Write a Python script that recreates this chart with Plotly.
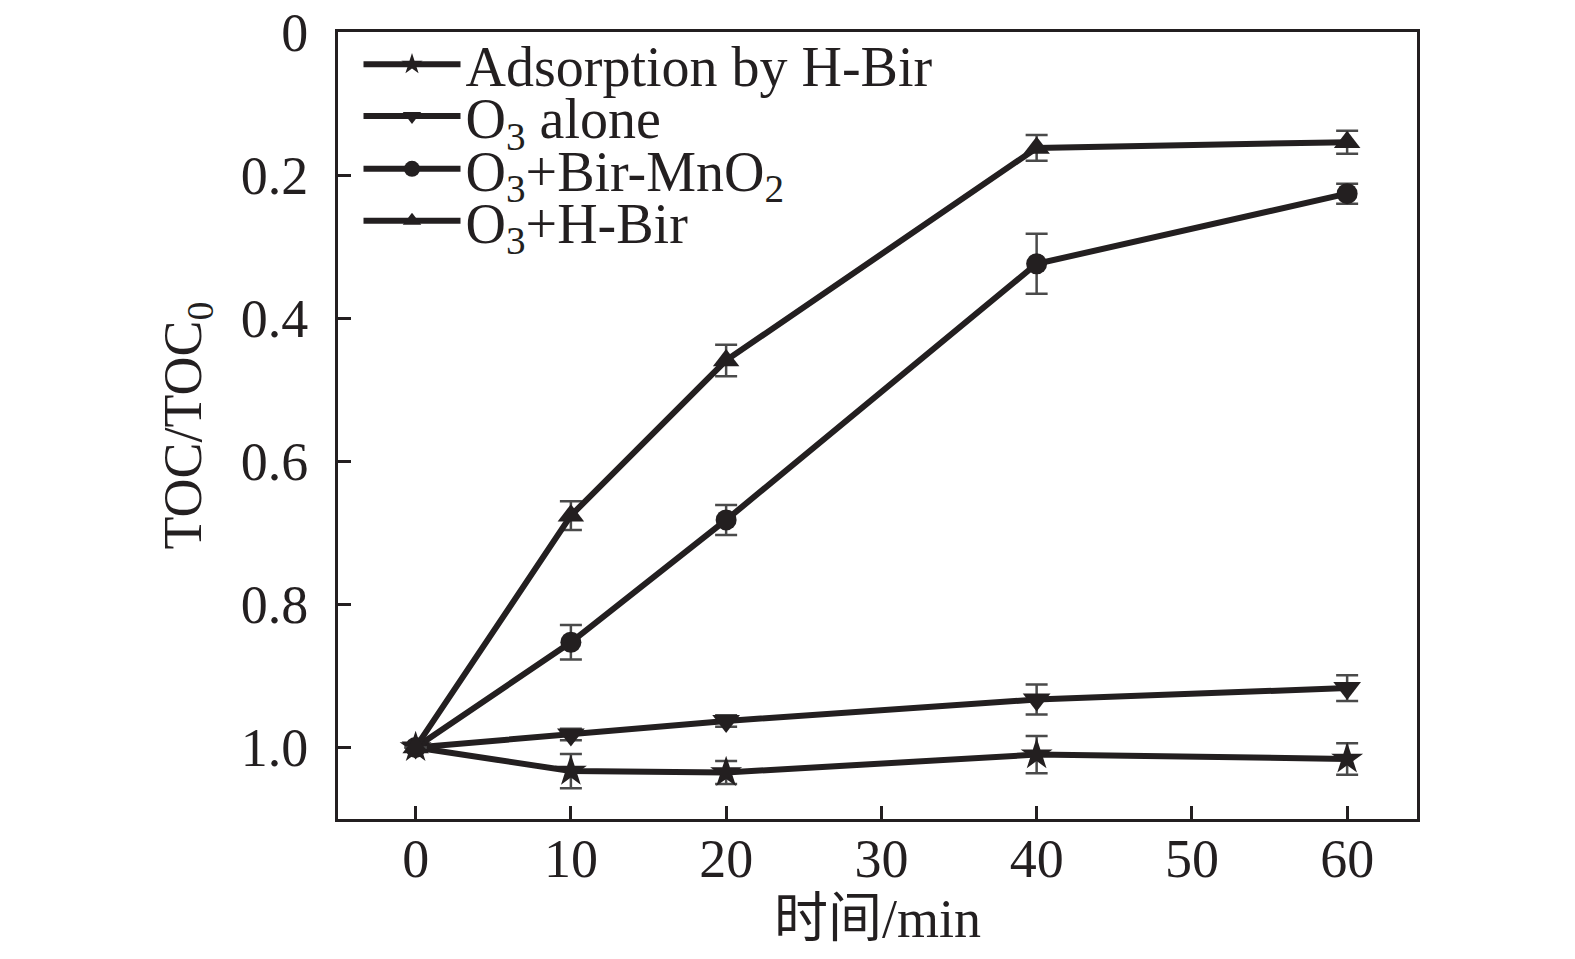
import plotly.graph_objects as go

# time points (min)
time_min = [0, 10, 20, 40, 60]

# TOC/TOC0
adsorption = [1.0, 1.033, 1.035, 1.010, 1.016]
adsorption_err = [0.0, 0.024, 0.016, 0.026, 0.022]

o3_alone = [1.0, 0.982, 0.963, 0.933, 0.917]
o3_alone_err = [0.0, 0.008, 0.008, 0.021, 0.018]

o3_bir = [1.0, 0.853, 0.682, 0.324, 0.226]
o3_bir_err = [0.0, 0.024, 0.021, 0.042, 0.014]

o3_hbir = [1.0, 0.676, 0.459, 0.162, 0.154]
o3_hbir_err = [0.0, 0.020, 0.022, 0.018, 0.016]

series_names = ["Adsorption by H-Bir", "O<sub>3</sub> alone",
                "O<sub>3</sub>+Bir-MnO<sub>2</sub>", "O<sub>3</sub>+H-Bir"]
y_ticks = [0, 0.2, 0.4, 0.6, 0.8, 1.0]
y_ticklabels = ["0", "0.2", "0.4", "0.6", "0.8", "1.0"]
x_ticks = [0, 10, 20, 30, 40, 50, 60]

ink = "#231f20"
font_fam = "Liberation Serif, Times New Roman, Noto Sans CJK SC, serif"

fig = go.Figure()
series = [
  (adsorption, adsorption_err, "star", 24),
  (o3_alone, o3_alone_err, "triangle-down", 24),
  (o3_bir, o3_bir_err, "circle", 21),
  (o3_hbir, o3_hbir_err, "triangle-up", 23),
]
# one legend per row so the rows sit as tight as in the original
legend_ids = ["legend", "legend2", "legend3", "legend4"]
legend_rows = [0.959, 0.893, 0.826, 0.760]

for name, (vals, errs, sym, size), lid in zip(series_names, series, legend_ids):
  fig.add_trace(go.Scatter(
    x=time_min, y=vals, name=name, mode="lines+markers", legend=lid,
    showlegend=True,
    line=dict(color=ink, width=6),
    marker=dict(symbol=sym, size=size, color=ink),
    error_y=dict(type="data", array=errs, visible=True,
                 color="#4a4a4a", thickness=2.5, width=11),
  ))

legends = {}
for lid, ypos in zip(legend_ids, legend_rows):
  legends[lid] = dict(x=0.019, y=ypos, xanchor="left", yanchor="middle",
                      bgcolor="rgba(0,0,0,0)", itemwidth=97,
                      font=dict(size=56, family=font_fam, color=ink))

fig.update_layout(
  width=1575, height=959,
  showlegend=True,
  margin=dict(l=330, r=166, t=24, b=148),
  paper_bgcolor="white", plot_bgcolor="white",
  font=dict(family=font_fam, size=54, color=ink),
  **legends,
)
fig.update_xaxes(
  range=[-5, 64.5], tickvals=x_ticks, ticks="inside", ticklen=13, tickwidth=3,
  tickcolor=ink, showline=True, linecolor=ink, linewidth=3, mirror=True,
  showgrid=False, zeroline=False, ticklabelstandoff=-10, automargin=False,
  ticklabeloverflow="allow",
  title=dict(text="时间/min", standoff=12, font=dict(size=54)),
)
fig.update_yaxes(
  range=[1.1, 0], tickvals=y_ticks, ticktext=y_ticklabels, ticks="inside",
  ticklen=13, tickwidth=3, tickcolor=ink, showline=True, linecolor=ink,
  linewidth=3, mirror=True, showgrid=False, zeroline=False,
  ticklabelstandoff=16, automargin=False, ticklabeloverflow="allow",
  title=dict(text="TOC/TOC<sub>0</sub>", standoff=22, font=dict(size=54)),
)

fig.write_html("out.html")
